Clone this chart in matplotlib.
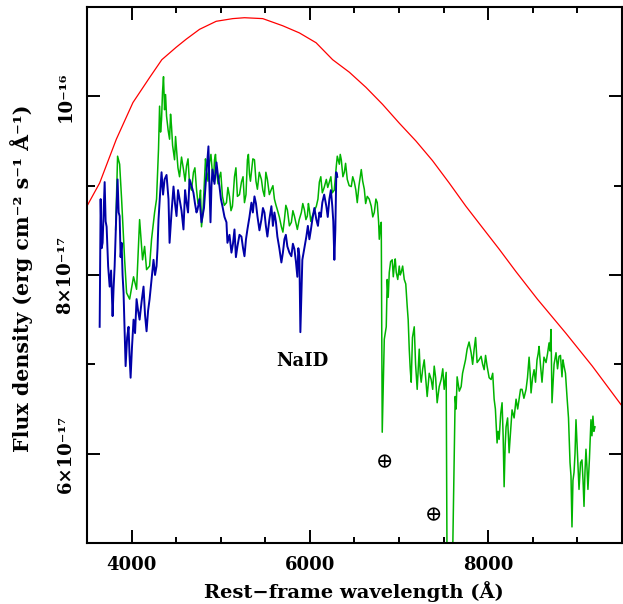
import matplotlib
matplotlib.use("Agg")
import matplotlib.pyplot as plt
from matplotlib.ticker import FixedLocator, MultipleLocator

# flux values are in units of 1e-17 erg cm^-2 s^-1 A^-1
green_wave = [3821, 3843, 3866, 3888, 3922, 3944, 3978, 4022, 4056, 4090,
              4123, 4146, 4168, 4202, 4224, 4258, 4280, 4302, 4314, 4325,
              4336, 4347, 4358, 4370, 4381, 4392, 4410, 4426, 4437, 4448,
              4460, 4482, 4493, 4504, 4520, 4538, 4560, 4582, 4600, 4616,
              4633, 4650, 4672, 4694, 4710, 4728, 4745, 4762, 4773, 4784,
              4800, 4818, 4829, 4840, 4857, 4874, 4890, 4907, 4918, 4930,
              4941, 4952, 4970, 4986, 5000, 5019, 5040, 5064, 5080, 5098,
              5115, 5131, 5143, 5154, 5170, 5187, 5210, 5232, 5250, 5266,
              5283, 5299, 5310, 5322, 5333, 5344, 5360, 5378, 5395, 5411,
              5432, 5456, 5472, 5490, 5506, 5523, 5545, 5568, 5585, 5602,
              5620, 5635, 5657, 5680, 5697, 5714, 5730, 5747, 5770, 5792,
              5809, 5826, 5843, 5859, 5880, 5904, 5920, 5938, 5955, 5971,
              5983, 5994, 6010, 6027, 6050, 6072, 6090, 6106, 6122, 6139,
              6160, 6184, 6200, 6218, 6235, 6251, 6273, 6296, 6307, 6330,
              6340, 6352, 6370, 6386, 6400, 6419, 6440, 6464, 6480, 6498,
              6515, 6531, 6550, 6576, 6592, 6610, 6625, 6643, 6665, 6688,
              6705, 6722, 6740, 6755, 6770, 6778, 6790, 6800, 6811, 6834,
              6856, 6867, 6878, 6890, 6905, 6923, 6935, 6946, 6957, 6968,
              6985, 7002, 7013, 7024, 7040, 7058, 7075, 7091, 7102, 7114,
              7125, 7136, 7150, 7170, 7185, 7203, 7215, 7226, 7237, 7248,
              7265, 7282, 7298, 7315, 7338, 7360, 7377, 7394, 7410, 7427,
              7450, 7472, 7490, 7506, 7515, 7528, 7539, 7595, 7629, 7640,
              7651, 7675, 7696, 7712, 7730, 7745, 7763, 7785, 7808, 7825,
              7842, 7858, 7875, 7897, 7920, 7937, 7954, 7970, 7987, 8010,
              8032, 8050, 8066, 8080, 8099, 8110, 8122, 8140, 8155, 8167,
              8178, 8190, 8200, 8217, 8234, 8250, 8267, 8290, 8312, 8330,
              8346, 8362, 8379, 8400, 8424, 8440, 8458, 8470, 8480, 8497,
              8514, 8530, 8547, 8560, 8570, 8585, 8603, 8625, 8648, 8665,
              8682, 8693, 8704, 8715, 8738, 8760, 8777, 8794, 8810, 8827,
              8838, 8850, 8866, 8883, 8900, 8917, 8928, 8939, 8950, 8962,
              8973, 8984, 9000, 9018, 9035, 9051, 9063, 9074, 9085, 9096,
              9107, 9118, 9135, 9152, 9163, 9174, 9185, 9197]
green_flux = [8.51, 9.33, 9.24, 8.85, 8.17, 7.80, 7.73, 7.98, 7.84, 8.62,
              8.17, 8.32, 8.06, 8.10, 8.40, 8.70, 8.85, 9.41, 9.89, 9.60,
              9.74, 10.05, 10.22, 9.85, 10.02, 9.78, 9.62, 9.52, 9.80, 9.66,
              9.45, 9.29, 9.55, 9.41, 9.20, 9.10, 9.32, 9.18, 9.05, 9.22,
              9.30, 9.01, 8.95, 9.15, 9.20, 8.96, 8.80, 8.85, 8.95, 8.54,
              8.70, 9.07, 9.30, 9.18, 9.05, 9.26, 9.35, 9.13, 9.05, 9.29,
              9.35, 9.18, 9.02, 9.10, 9.15, 8.88, 8.78, 8.81, 8.98, 8.88,
              8.72, 8.77, 8.95, 9.10, 9.20, 8.88, 8.90, 9.04, 9.10, 8.81,
              8.90, 9.29, 9.35, 9.13, 9.05, 9.15, 9.30, 9.29, 9.05, 8.96,
              9.15, 9.07, 8.95, 8.88, 9.15, 9.07, 8.90, 8.96, 9.00, 8.85,
              8.78, 8.73, 8.65, 8.54, 8.48, 8.62, 8.78, 8.73, 8.55, 8.59,
              8.72, 8.66, 8.58, 8.51, 8.62, 8.70, 8.80, 8.73, 8.62, 8.66,
              8.80, 8.73, 8.60, 8.66, 8.72, 8.77, 8.85, 9.04, 9.10, 8.92,
              8.98, 9.07, 8.98, 9.04, 9.10, 8.92, 8.95, 9.22, 9.33, 9.24,
              9.35, 9.29, 9.10, 9.15, 9.25, 9.07, 9.00, 8.99, 9.10, 9.04,
              8.95, 8.81, 9.00, 9.18, 9.05, 8.96, 8.80, 8.88, 8.85, 8.77,
              8.65, 8.70, 8.85, 8.81, 8.60, 8.40, 8.55, 8.59, 6.24, 7.28,
              7.42, 7.95, 7.75, 8.03, 8.15, 8.17, 7.98, 8.10, 8.18, 8.03,
              7.95, 8.10, 8.00, 8.03, 8.10, 7.95, 7.90, 7.65, 7.50, 7.17,
              6.95, 6.80, 7.30, 7.42, 7.00, 6.72, 6.95, 7.17, 6.90, 6.80,
              6.95, 7.05, 6.85, 6.64, 6.90, 6.83, 6.72, 6.98, 6.85, 6.57,
              6.75, 6.83, 6.95, 6.72, 6.80, 6.91, 4.50, 4.50, 6.64, 6.50,
              6.86, 6.70, 6.75, 6.90, 6.98, 7.05, 7.17, 7.25, 7.13, 7.00,
              7.17, 7.30, 7.02, 7.05, 7.09, 7.00, 6.94, 7.10, 6.98, 6.85,
              6.83, 6.90, 6.61, 6.50, 6.12, 6.25, 6.16, 6.45, 6.57, 6.20,
              5.63, 6.10, 6.30, 6.40, 6.01, 6.25, 6.49, 6.40, 6.61, 6.50,
              6.61, 6.72, 6.72, 6.62, 6.72, 6.85, 7.08, 6.90, 6.68, 6.85,
              6.94, 6.80, 7.05, 7.12, 7.20, 7.00, 6.80, 7.08, 7.02, 7.12,
              7.24, 7.15, 7.39, 6.57, 7.00, 7.13, 6.95, 7.09, 7.10, 6.86,
              7.05, 6.98, 6.90, 6.64, 6.40, 5.90, 5.75, 5.18, 5.70, 5.79,
              6.00, 6.38, 6.00, 5.60, 5.90, 5.93, 5.70, 5.41, 5.80, 6.05,
              5.85, 5.60, 5.95, 6.38, 6.20, 6.42, 6.25, 6.30]

blue_wave = [3642, 3653, 3664, 3675, 3687, 3698, 3709, 3720, 3737, 3754,
             3770, 3787, 3798, 3810, 3826, 3843, 3855, 3866, 3877, 3888,
             3899, 3910, 3921, 3933, 3950, 3966, 3977, 3989, 4005, 4022,
             4039, 4056, 4073, 4090, 4112, 4134, 4151, 4168, 4185, 4202,
             4224, 4246, 4263, 4280, 4291, 4302, 4319, 4336, 4353, 4370,
             4392, 4414, 4426, 4448, 4470, 4487, 4504, 4521, 4538, 4560,
             4582, 4600, 4616, 4633, 4650, 4672, 4694, 4711, 4728, 4739,
             4762, 4784, 4812, 4840, 4862, 4873, 4885, 4896, 4907, 4930,
             4952, 4970, 4986, 5002, 5019, 5042, 5064, 5075, 5098, 5120,
             5137, 5154, 5170, 5187, 5210, 5232, 5250, 5266, 5283, 5299,
             5322, 5344, 5360, 5378, 5395, 5411, 5434, 5456, 5473, 5490,
             5506, 5523, 5545, 5568, 5585, 5602, 5618, 5635, 5657, 5680,
             5697, 5714, 5730, 5747, 5770, 5792, 5809, 5826, 5843, 5859,
             5870, 5882, 5893, 5915, 5938, 5960, 5977, 5994, 6010, 6027,
             6050, 6072, 6090, 6106, 6122, 6139, 6160, 6184, 6200, 6218,
             6235, 6251, 6262, 6274, 6285, 6296, 6307]
blue_flux = [7.42, 8.85, 8.30, 8.36, 8.70, 9.04, 8.60, 8.54, 8.10, 7.87,
             8.05, 7.54, 7.85, 8.10, 8.60, 9.07, 8.70, 8.66, 8.20, 8.36,
             8.00, 7.80, 7.40, 6.98, 7.30, 7.42, 7.10, 6.85, 7.20, 7.50,
             7.35, 7.73, 7.60, 7.50, 7.70, 7.87, 7.55, 7.37, 7.60, 7.73,
             7.95, 8.17, 8.00, 8.10, 8.30, 8.62, 8.90, 9.15, 8.90, 9.07,
             9.12, 8.85, 8.36, 8.70, 8.99, 8.80, 8.66, 8.95, 8.85, 8.72,
             8.51, 8.95, 8.81, 8.70, 9.07, 9.00, 8.92, 8.80, 8.70, 8.73,
             8.85, 8.59, 8.75, 9.15, 9.44, 9.00, 8.59, 9.00, 9.18, 9.02,
             9.26, 9.10, 8.99, 8.85, 8.77, 8.65, 8.59, 8.36, 8.45, 8.25,
             8.35, 8.51, 8.20, 8.32, 8.45, 8.43, 8.30, 8.21, 8.40, 8.51,
             8.65, 8.81, 8.70, 8.88, 8.80, 8.66, 8.50, 8.62, 8.75, 8.70,
             8.55, 8.43, 8.62, 8.77, 8.55, 8.70, 8.60, 8.43, 8.30, 8.14,
             8.25, 8.40, 8.45, 8.32, 8.25, 8.21, 8.35, 8.29, 8.15, 7.98,
             8.30, 8.21, 7.36, 8.17, 8.30, 8.43, 8.55, 8.40, 8.50, 8.62,
             8.75, 8.62, 8.55, 8.70, 8.65, 8.81, 8.90, 8.77, 8.65, 8.85,
             8.95, 8.77, 8.60, 8.17, 8.50, 9.15, 9.10]

red_wave = [3499, 3642, 3829, 4015, 4202, 4339, 4501, 4613, 4762, 4949, 5135, 5266,
            5471, 5695, 5882, 6069, 6255, 6442, 6629, 6815, 7002, 7189, 7375, 7562,
            7749, 7935, 8122, 8309, 8551, 8869, 9167, 9488]
red_flux = [8.77, 9.03, 9.52, 9.93, 10.21, 10.41, 10.55, 10.64, 10.75, 10.84, 10.87,
            10.88, 10.87, 10.79, 10.71, 10.60, 10.41, 10.27, 10.10, 9.91, 9.70, 9.50,
            9.28, 9.03, 8.77, 8.53, 8.29, 8.04, 7.73, 7.35, 6.98, 6.55]

assert len(green_wave) == len(green_flux)
assert len(blue_wave) == len(blue_flux)

ytick_vals = [6e-17, 8e-17, 1e-16]
ytick_labels = ["6×10⁻¹⁷", "8×10⁻¹⁷", "10⁻¹⁶"]
xtick_vals = [4000, 6000, 8000]

plt.rcParams['font.family'] = ['DejaVu Serif', 'DejaVu Sans']
plt.rcParams['font.weight'] = 'bold'

fig = plt.figure(figsize=(6.23, 6.04), dpi=100)
ax = fig.add_axes([87 / 623, 1 - 543 / 604, 535 / 623, 536 / 604])

s = 1e-17
ax.plot(green_wave, [f * s for f in green_flux], color='#00b400', lw=1.1)
ax.plot(blue_wave, [f * s for f in blue_flux], color='#0000a8', lw=1.4)
ax.plot(red_wave, [f * s for f in red_flux], color='#ff0000', lw=0.9)

ax.set_xlim(3500, 9500)
ax.set_ylim(5.0e-17, 1.1e-16)

ax.xaxis.set_major_locator(FixedLocator(xtick_vals))
ax.xaxis.set_minor_locator(MultipleLocator(500))
ax.set_xticklabels([str(v) for v in xtick_vals])
ax.yaxis.set_major_locator(FixedLocator(ytick_vals))
ax.yaxis.set_minor_locator(FixedLocator([7e-17, 9e-17]))
ax.set_yticklabels(ytick_labels, rotation=90, va='center')

ax.tick_params(which='both', direction='in', top=True, right=True, width=1.4,
               labelsize=13)
ax.tick_params(which='major', length=9.5, pad=9)
ax.tick_params(which='minor', length=4.5)
ax.tick_params(axis='y', which='minor', length=5.5)
for sp in ax.spines.values():
    sp.set_linewidth(1.5)

ax.text(5915, 7.04e-17, "NaID", fontsize=13, ha='center', va='center')
ax.text(6834, 5.90e-17, "⊕", fontsize=15, ha='center', va='center', fontweight='normal')
ax.text(7382, 5.31e-17, "⊕", fontsize=15, ha='center', va='center', fontweight='normal')

fig.text(354 / 623, 1 - 592 / 604, "Rest−frame wavelength (Å)", fontsize=14,
         ha='center', va='center')
fig.text(22 / 623, 1 - 278 / 604, "Flux density (erg cm⁻² s⁻¹ Å⁻¹)", fontsize=14.8,
         ha='center', va='center', rotation=90)

fig.savefig("out.png", dpi=100)
